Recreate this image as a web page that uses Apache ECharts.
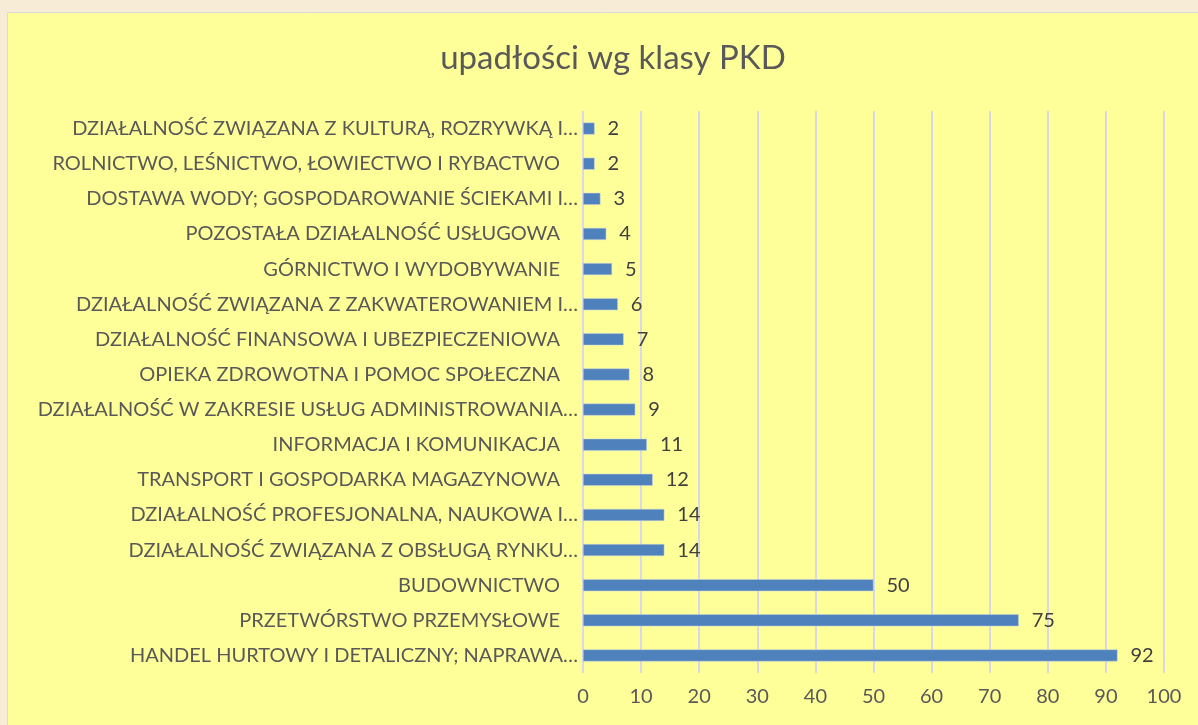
<!DOCTYPE html>
<html>
<head>
<meta charset="utf-8">
<script src="https://cdn.jsdelivr.net/npm/echarts@6/dist/echarts.min.js"></script>
<style>
  html, body { margin: 0; padding: 0; background: #f7edd6; }
  #chart { width: 1198px; height: 725px; }
</style>
</head>
<body>
<div id="chart"></div>
<script>
// kategorie od góry do dołu, tak jak na wykresie
var categories = [
    'DZIAŁALNOŚĆ ZWIĄZANA Z KULTURĄ, ROZRYWKĄ I…',
    'ROLNICTWO, LEŚNICTWO, ŁOWIECTWO I RYBACTWO',
    'DOSTAWA WODY; GOSPODAROWANIE ŚCIEKAMI I…',
    'POZOSTAŁA DZIAŁALNOŚĆ USŁUGOWA',
    'GÓRNICTWO I WYDOBYWANIE',
    'DZIAŁALNOŚĆ ZWIĄZANA Z ZAKWATEROWANIEM I…',
    'DZIAŁALNOŚĆ FINANSOWA I UBEZPIECZENIOWA',
    'OPIEKA ZDROWOTNA I POMOC SPOŁECZNA',
    'DZIAŁALNOŚĆ W ZAKRESIE USŁUG ADMINISTROWANIA…',
    'INFORMACJA I KOMUNIKACJA',
    'TRANSPORT I GOSPODARKA MAGAZYNOWA',
    'DZIAŁALNOŚĆ PROFESJONALNA, NAUKOWA I…',
    'DZIAŁALNOŚĆ ZWIĄZANA Z OBSŁUGĄ RYNKU…',
    'BUDOWNICTWO',
    'PRZETWÓRSTWO PRZEMYSŁOWE',
    'HANDEL HURTOWY I DETALICZNY; NAPRAWA…'
];
var upadlosci = [2, 2, 3, 4, 5, 6, 7, 8, 9, 11, 12, 14, 14, 50, 75, 92];

var FONT = 'Lato';
var myChart = echarts.init(document.getElementById('chart'));
var option = {
    backgroundColor: 'transparent',
    textStyle: { fontFamily: FONT },
    graphic: [{
        type: 'rect',
        z: -10,
        shape: { x: 7.5, y: 12.5, width: 1200, height: 720 },
        style: { fill: '#ffff99', stroke: '#d9d9df', lineWidth: 1 }
    }],
    title: {
        text: 'upadłości wg klasy PKD',
        left: 608,
        textAlign: 'center',
        top: 37,
        textStyle: { fontFamily: FONT, fontSize: 33, fontWeight: 'normal', color: '#595959' }
    },
    grid: { left: 583, right: 34, top: 111, bottom: 52, containLabel: false },
    xAxis: {
        type: 'value',
        min: 0,
        max: 100,
        interval: 10,
        axisLine: { show: false },
        axisTick: { show: false },
        splitLine: { lineStyle: { color: '#d9d9e3', width: 2 } },
        axisLabel: { margin: 14, fontSize: 20, color: '#595959', fontFamily: FONT }
    },
    yAxis: {
        type: 'category',
        inverse: true,
        data: categories,
        axisLine: { show: false },
        axisTick: { show: false },
        splitLine: { show: false },
        axisLabel: {
            margin: 5,
            fontSize: 20,
            color: '#595959',
            fontFamily: FONT,
            // pełne nazwy mają w oryginale spację na końcu
            formatter: function (v) {
                return v.slice(-1) === '…' ? v : '{p|' + v + '}';
            },
            rich: {
                p: { fontSize: 20, color: '#595959', fontFamily: FONT, padding: [0, 18, 0, 0] }
            }
        }
    },
    series: [{
        type: 'bar',
        data: upadlosci,
        barWidth: 12,
        itemStyle: { color: '#4f81bd', borderColor: '#c9d3e3', borderWidth: 0.5 },
        label: {
            show: true,
            position: 'right',
            distance: 13,
            fontSize: 20,
            color: '#404040',
            fontFamily: FONT
        }
    }]
};
myChart.setOption(option);
</script>
</body>
</html>
